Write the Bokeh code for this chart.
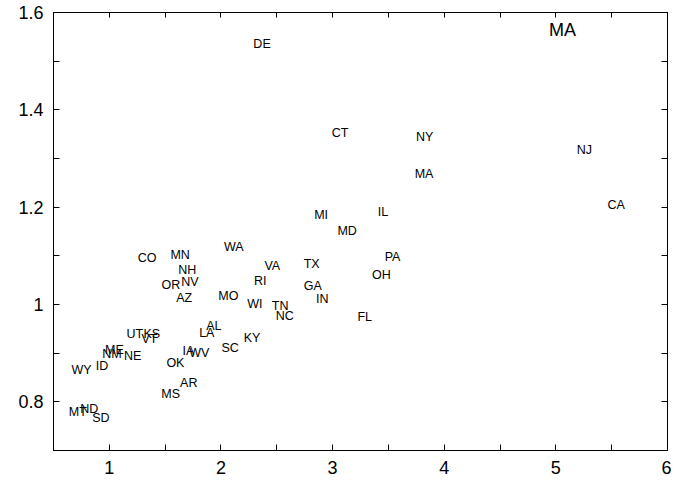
from bokeh.plotting import figure
from bokeh.models import ColumnDataSource, Range1d, FixedTicker, LinearAxis, NumeralTickFormatter, Label
from bokeh.embed import file_html
from bokeh.resources import INLINE
from bokeh.core.properties import value

# ---- data ----
states = ["DE", "CT", "NY", "NJ", "MA", "CA", "IL", "MD", "MI", "PA", "OH", "FL",
          "CO", "MN", "WA", "NH", "VA", "TX", "OR", "NV", "RI", "GA", "AZ", "MO",
          "IN", "WI", "TN", "NC", "AL", "LA", "KY", "UT", "KS", "VT", "SC", "IA",
          "WV", "ME", "NM", "NE", "OK", "WY", "ID", "AR", "MS", "MT", "ND", "SD"]
x_vals = [2.368, 3.067, 3.825, 5.256, 3.819, 5.540, 3.452, 3.130, 2.897, 3.537, 3.438, 3.288,
          1.339, 1.634, 2.115, 1.699, 2.460, 2.813, 1.552, 1.721, 2.352, 2.823, 1.670, 2.067,
          2.907, 2.304, 2.530, 2.571, 1.936, 1.873, 2.279, 1.229, 1.381, 1.359, 2.082, 1.709,
          1.806, 1.046, 1.023, 1.209, 1.592, 0.752, 0.934, 1.712, 1.549, 0.718, 0.820, 0.925]
y_vals = [1.535, 1.353, 1.344, 1.318, 1.268, 1.2035, 1.190, 1.151, 1.183, 1.098, 1.0615, 0.9735,
          1.095, 1.102, 1.1175, 1.071, 1.079, 1.083, 1.040, 1.047, 1.048, 1.038, 1.014, 1.017,
          1.0115, 1.001, 0.997, 0.976, 0.9555, 0.942, 0.9315, 0.9385, 0.9385, 0.930, 0.911, 0.904,
          0.901, 0.906, 0.898, 0.894, 0.8805, 0.865, 0.873, 0.838, 0.817, 0.779, 0.786, 0.766]

x_ticks = [1, 2, 3, 4, 5, 6]
x_minor_ticks = [0.5, 1.5, 2.5, 3.5, 4.5, 5.5]
y_ticks = [0.8, 1.0, 1.2, 1.4, 1.6]
y_minor_ticks = [0.7, 0.9, 1.1, 1.3, 1.5]
x_limits = (0.5, 6)
y_limits = (0.7, 1.6)
key_title = "MA"

FONT = "Liberation Sans"

source = ColumnDataSource(data=dict(x=x_vals, y=y_vals, label=states))

p = figure(frame_width=614, frame_height=438,
           min_border_left=53, min_border_right=4, min_border_top=12, min_border_bottom=34,
           x_range=Range1d(*x_limits), y_range=Range1d(*y_limits),
           output_backend="svg", toolbar_location=None,
           x_axis_location=None, y_axis_location=None)

p.grid.visible = False
p.outline_line_color = "black"
p.outline_line_width = 1
p.background_fill_color = "white"
p.border_fill_color = "white"

xt = FixedTicker(ticks=x_ticks, minor_ticks=x_minor_ticks)
yt = FixedTicker(ticks=y_ticks, minor_ticks=y_minor_ticks)


def make_axis(ticker, show_labels, tick_len):
    ax = LinearAxis(ticker=ticker, formatter=NumeralTickFormatter(format="0.[0]"))
    ax.axis_line_color = "black"
    ax.major_tick_line_color = "black"
    ax.minor_tick_line_color = "black"
    ax.major_tick_in = tick_len
    ax.major_tick_out = 0
    ax.minor_tick_in = tick_len
    ax.minor_tick_out = 0
    if show_labels:
        ax.major_label_text_font = FONT
        ax.major_label_text_font_size = "18px"
        ax.major_label_text_color = "black"
        ax.major_label_standoff = 10
    else:
        ax.major_label_text_font_size = "0px"
        ax.major_label_text_color = None
        ax.major_label_standoff = 0
    return ax


p.add_layout(make_axis(xt, True, 6), "below")
p.add_layout(make_axis(yt, True, 6), "left")
p.add_layout(make_axis(xt, False, 5), "above")
p.add_layout(make_axis(yt, False, 6), "right")

p.text(x="x", y="y", text="label", source=source,
       text_font=value(FONT), text_font_size="12.5px", text_color="black",
       text_align="center", text_baseline="middle")

p.add_layout(Label(x=509, y=421, x_units="screen", y_units="screen", text=key_title,
                   text_font=FONT, text_font_size="18px", text_color="black",
                   text_align="center", text_baseline="middle"))

open("out.html", "w").write(file_html(p, INLINE))
